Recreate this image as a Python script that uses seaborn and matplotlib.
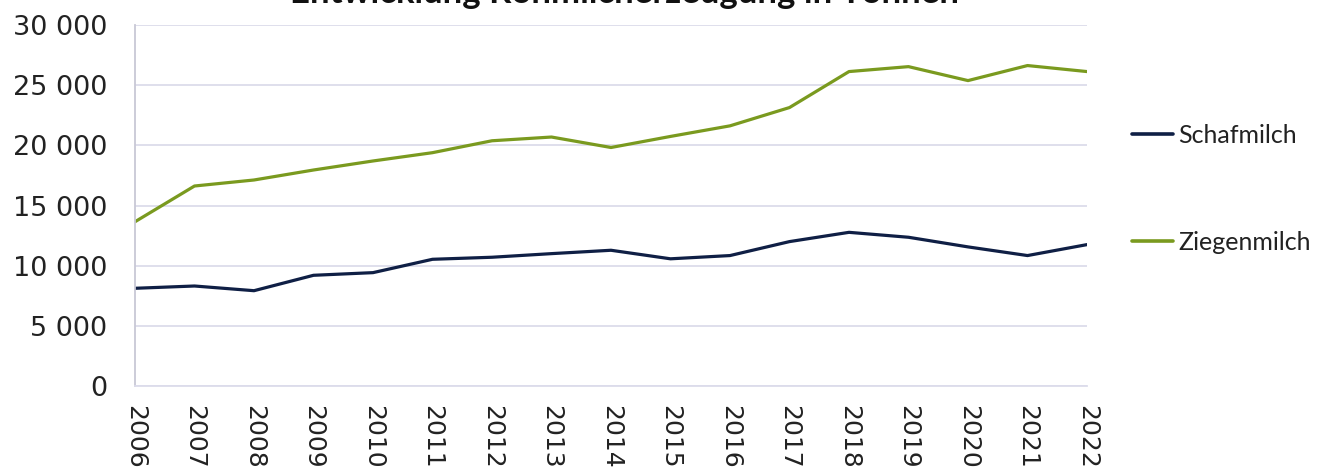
import matplotlib
matplotlib.use("Agg")
import matplotlib.pyplot as plt
import matplotlib.ticker as mticker
import seaborn as sns
import pandas as pd

years = list(range(2006, 2023))
schafmilch = [8120, 8310, 7920, 9200, 9420, 10530, 10700, 11000, 11280, 10570,
              10840, 12000, 12770, 12360, 11560, 10840, 11750]
ziegenmilch = [13650, 16620, 17120, 17950, 18700, 19390, 20380, 20690, 19820, 20740,
               21620, 23140, 26130, 26540, 25380, 26630, 26130]
series_names = ["Schafmilch", "Ziegenmilch"]
title = "Entwicklung Rohmilcherzeugung in Tonnen"
y_ticks = [0, 5000, 10000, 15000, 20000, 25000, 30000]

df = pd.DataFrame({
    "Jahr": years * 2,
    "Tonnen": schafmilch + ziegenmilch,
    "Serie": [series_names[0]] * len(years) + [series_names[1]] * len(years),
})

sns.set_style("white")
plt.rcParams["font.family"] = ["DejaVu Sans"]

fig = plt.figure(figsize=(13.27, 4.76), dpi=100)
ax = fig.add_axes([135 / 1327, 1 - 386 / 476, (1087 - 135) / 1327, (386 - 25) / 476])

palette = {"Schafmilch": "#0F1F45", "Ziegenmilch": "#7A9A1F"}
sns.lineplot(data=df, x="Jahr", y="Tonnen", hue="Serie", palette=palette,
             linewidth=2.3, ax=ax, legend=True)

ax.set_xlim(2006, 2022)
ax.set_ylim(0, 30000)
ax.set_xticks(years)
ax.set_xticklabels([str(y) for y in years], rotation=-90, fontsize=18,
                   color="#222222", va="top", ha="center")
ax.set_yticks(y_ticks)
ax.yaxis.set_major_formatter(mticker.FuncFormatter(lambda v, p: f"{int(v):,}".replace(",", " ")))
for lab in ax.get_yticklabels():
    lab.set_fontsize(19.5)
    lab.set_color("#222222")
ax.tick_params(axis="y", length=0, pad=20)
ax.tick_params(axis="x", length=0, pad=14)
ax.set_xlabel("")
ax.set_ylabel("")
ax.grid(axis="y", color="#DCDCEB", linewidth=1.3)
ax.grid(axis="x", visible=False)
ax.set_axisbelow(True)
for s in ["top", "right"]:
    ax.spines[s].set_visible(False)
ax.spines["bottom"].set_color("#DCDCEB")
ax.spines["bottom"].set_linewidth(1.3)
ax.spines["left"].set_color("#C8C8D6")
ax.spines["left"].set_linewidth(1.3)

handles, labels = ax.get_legend_handles_labels()
leg = ax.legend(handles, labels, loc="upper left", bbox_to_anchor=(1132 / 1327, 1 - 124 / 476),
                bbox_transform=fig.transFigure, frameon=False,
                prop={"family": "Lato", "size": 18}, handlelength=1.65,
                handletextpad=0.2, labelspacing=3.35, borderpad=0, borderaxespad=0)
for line in leg.get_lines():
    line.set_linewidth(2.6)
for t in leg.get_texts():
    t.set_color("#222222")

fig.text(624 / 1327, 1 - 3 / 476, title, ha="center", va="baseline",
         fontsize=25, fontweight="bold", family="Lato", color="#111111")

fig.savefig("out.png", dpi=100)
